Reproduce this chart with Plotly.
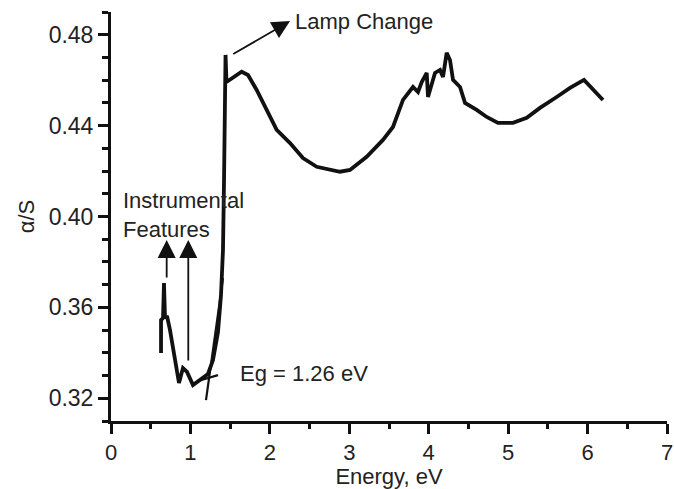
import plotly.graph_objects as go

energy = [0.630, 0.630, 0.655, 0.667, 0.680, 0.705, 0.743, 0.806, 0.856, 0.906, 0.957,
          1.032, 1.095, 1.158, 1.221, 1.284, 1.347, 1.385, 1.410, 1.423, 1.429, 1.435,
          1.442, 1.454, 1.536, 1.645, 1.725, 1.834, 1.960, 2.086, 2.254, 2.417, 2.590,
          2.883, 3.009, 3.219, 3.424, 3.550, 3.676, 3.802, 3.865, 3.912, 3.975, 3.991,
          4.079, 4.142, 4.180, 4.226, 4.268, 4.306, 4.394, 4.457, 4.604, 4.730, 4.872,
          5.061, 5.234, 5.401, 5.611, 5.779, 5.955, 6.194]
alpha_s = [0.3399, 0.3544, 0.3553, 0.3707, 0.3553, 0.3562, 0.3500, 0.3382, 0.3267, 0.3333, 0.3316,
           0.3258, 0.3276, 0.3289, 0.3307, 0.3368, 0.3492, 0.3655, 0.3853, 0.4161, 0.4469, 0.4645,
           0.4711, 0.4592, 0.4610, 0.4637, 0.4623, 0.4557, 0.4469, 0.4381, 0.4323, 0.4257, 0.4219,
           0.4197, 0.4205, 0.4263, 0.4337, 0.4394, 0.4513, 0.4570, 0.4548, 0.4592, 0.4632, 0.4526,
           0.4632, 0.4645, 0.4614, 0.4720, 0.4689, 0.4601, 0.4570, 0.4500, 0.4469, 0.4438, 0.4412,
           0.4412, 0.4434, 0.4478, 0.4526, 0.4566, 0.4601, 0.4513]

tangent_x = [1.196, 1.410]
tangent_y = [0.3192, 0.3729]
baseline_x = [1.095, 1.347]
baseline_y = [0.3276, 0.3302]

x_ticks = [0, 1, 2, 3, 4, 5, 6, 7]
y_ticks = [0.32, 0.36, 0.40, 0.44, 0.48]

FONT = "Liberation Sans, Arial, sans-serif"
TXT = "#222222"
INK = "#111111"

fig = go.Figure()
fig.add_trace(go.Scatter(x=energy, y=alpha_s, mode="lines",
                         line=dict(color=INK, width=3.8), showlegend=False))
fig.add_trace(go.Scatter(x=tangent_x, y=tangent_y, mode="lines",
                         line=dict(color=INK, width=2.2), showlegend=False))
fig.add_trace(go.Scatter(x=baseline_x, y=baseline_y, mode="lines",
                         line=dict(color=INK, width=2.2), showlegend=False))

arrows = [
    dict(x=0.701, y=0.3897, ax=0.701, ay=0.3725),
    dict(x=0.973, y=0.3897, ax=0.973, ay=0.336),
    dict(x=2.254, y=0.486, ax=1.520, ay=0.4711),
]
for a in arrows:
    fig.add_annotation(x=a["x"], y=a["y"], ax=a["ax"], ay=a["ay"], xref="x", yref="y",
                       axref="x", ayref="y", text="", showarrow=True, arrowhead=2,
                       arrowsize=2.0, arrowwidth=1.8, arrowcolor=INK)

fig.add_annotation(x=2.291, y=0.486, xref="x", yref="y", text="Lamp Change", showarrow=False,
                   xanchor="left", yanchor="middle", font=dict(family=FONT, size=22, color=TXT))
fig.add_annotation(x=0.126, y=0.4007, xref="x", yref="y", text="Instrumental<br>Features",
                   showarrow=False, xanchor="left", yanchor="middle", align="left",
                   font=dict(family=FONT, size=22, color=TXT))
fig.add_annotation(x=1.599, y=0.3307, xref="x", yref="y", text="Eg = 1.26 eV", showarrow=False,
                   xanchor="left", yanchor="middle", font=dict(family=FONT, size=22, color=TXT))

fig.update_layout(
    width=674, height=489,
    margin=dict(l=111, r=7, t=12, b=68, autoexpand=False),
    paper_bgcolor="white", plot_bgcolor="white",
    font=dict(family=FONT, size=22, color=TXT),
    xaxis=dict(range=[0, 7], tickvals=x_ticks, showgrid=False, zeroline=False,
               showline=True, linecolor=INK, linewidth=3, automargin=False,
               ticks="outside", ticklen=10, tickwidth=2.8, tickcolor=INK,
               tickfont=dict(size=22),
               minor=dict(dtick=0.5, tick0=0, ticks="outside", ticklen=5, tickwidth=2.8,
                          tickcolor=INK, showgrid=False),
               title=dict(text="Energy, eV", standoff=4, font=dict(size=22))),
    yaxis=dict(range=[0.31, 0.49], tickvals=y_ticks, tickformat=".2f", showgrid=False,
               zeroline=False, showline=True, linecolor=INK, linewidth=3, automargin=False,
               ticks="outside", ticklen=10, tickwidth=2.8, tickcolor=INK,
               tickfont=dict(size=23),
               minor=dict(dtick=0.01, tick0=0.32, ticks="outside", ticklen=6, tickwidth=2.8,
                          tickcolor=INK, showgrid=False),
               title=dict(text="α/S", standoff=8, font=dict(size=22))),
)

fig.write_html("out.html")
